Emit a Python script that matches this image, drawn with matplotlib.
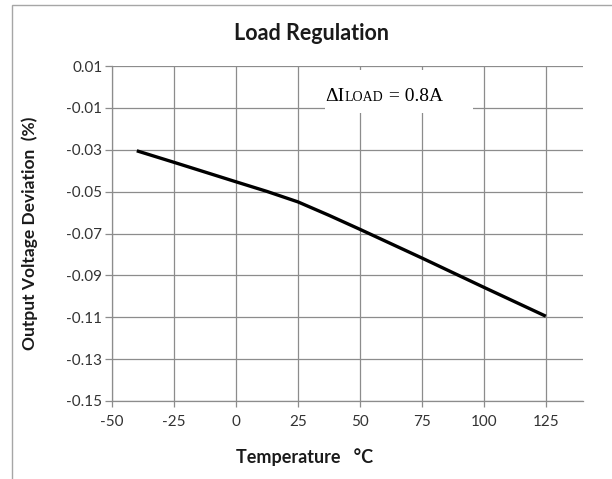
import matplotlib
matplotlib.use("Agg")
import matplotlib.pyplot as plt
from matplotlib.patches import Rectangle
from matplotlib.offsetbox import TextArea, HPacker, AnnotationBbox

# data
temperature = [-40, -25, 0, 12.5, 25, 37.5, 50, 75, 100, 125]
deviation = [-0.0305, -0.036, -0.0453, -0.0499, -0.0549, -0.0613, -0.0680,
             -0.0817, -0.0957, -0.1095]

x_ticks = [-50, -25, 0, 25, 50, 75, 100, 125]
y_ticks = [0.01, -0.01, -0.03, -0.05, -0.07, -0.09, -0.11, -0.13, -0.15]

plt.rcParams["font.family"] = ["Lato", "DejaVu Sans"]

W, H = 612, 479
fig = plt.figure(figsize=(W / 100, H / 100), dpi=100)
ax = fig.add_axes([112 / W, 1 - 401 / H, (583 - 112) / W, (401 - 66) / H])

grid_col = "#8c8c8c"
ax.plot(temperature, deviation, color="black", lw=2.4, solid_capstyle="butt",
        solid_joinstyle="round", zorder=3)

ax.set_xlim(-50, 140)
ax.set_ylim(-0.15, 0.01)
ax.set_xticks(x_ticks)
ax.set_yticks(y_ticks)
ax.set_xticklabels([str(t) for t in x_ticks])
ax.set_yticklabels([f"{v:.2f}" for v in y_ticks])
ax.grid(True, color=grid_col, lw=0.9, zorder=0)
ax.set_axisbelow(True)

for s in ["top", "right"]:
    ax.spines[s].set_visible(False)
for s in ["left", "bottom"]:
    ax.spines[s].set_color(grid_col)
    ax.spines[s].set_linewidth(0.9)

ax.tick_params(axis="x", direction="out", length=4, width=0.9, color=grid_col,
               pad=6, labelsize=11, labelcolor="#333333")
ax.tick_params(axis="y", direction="out", length=5, width=0.9, color=grid_col,
               pad=2, labelsize=11, labelcolor="#333333")

# white patch behind the annotation hides the gridlines
ax.add_patch(Rectangle((35.9, -0.0125), 95.6 - 35.9, 0.0081 + 0.0125,
                       facecolor="white", edgecolor="none", zorder=1))

serif = ["Liberation Serif", "DejaVu Serif"]
parts = HPacker(children=[
    TextArea("\u0394I", textprops=dict(family=serif, size=14)),
    TextArea("LOAD", textprops=dict(family=serif, size=10)),
    TextArea(" = 0.8A", textprops=dict(family=serif, size=14)),
], align="baseline", pad=0, sep=0)
ax.add_artist(AnnotationBbox(parts, (36.2, -0.0048), xycoords="data",
                             box_alignment=(0, 0.5), frameon=False, zorder=4))

fig.text(312 / W, 1 - 33 / H, "Load Regulation", ha="center", va="center",
         fontsize=15.5, fontweight="bold", color="#1a1a1a")
fig.text(305 / W, 1 - 457 / H, "Temperature   \u00b0C", ha="center", va="center",
         fontsize=13, fontweight="bold", color="#1a1a1a")
fig.text(30 / W, 1 - 233 / H, "Output Voltage Deviation  (%)", ha="center", va="center",
         rotation=90, fontsize=12.5, fontweight="bold", color="#1a1a1a")

# chart area border (cropped at right and bottom)
fig.add_artist(Rectangle((12 / W, -0.05), 1.1, 1 - 5 / H + 0.05, transform=fig.transFigure,
                         facecolor="none", edgecolor="#a6a6a6", lw=1))

fig.savefig("out.png", dpi=100)
